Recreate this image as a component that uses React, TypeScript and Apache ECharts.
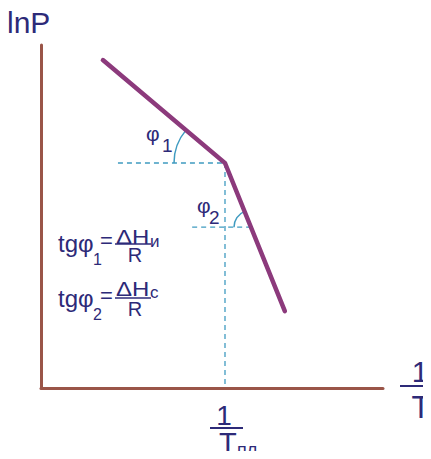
import React, { useEffect, useRef } from "react";
import * as echarts from "echarts";

// Broken line ln P vs 1/T (two linear branches meeting at the melting point)
const curveX = [18.1, 53.8, 71.3];
const curveY = [95.6, 65.6, 22.4];

// Guide lines (dashed)
const guide1X = [22.5, 53.8];
const guide1Y = [65.6, 65.6];
const guideVX = [53.8, 53.8];
const guideVY = [65.6, 0];
const guide2X = [44.2, 61.4];
const guide2Y = [46.9, 46.9];

const TEXT = "#2d2a78";
const AXIS = "#9a5548";
const LINE = "#8c3a7c";
const DASH = "#3f9bc0";
const FONT = "'Liberation Sans', Arial, sans-serif";

const pairs = (xs: number[], ys: number[]) => xs.map((x, i) => [x, ys[i]]);

function txt(text: string, x: number, y: number, size: number, align = "left", sx = 1) {
  return {
    type: "text",
    x,
    y,
    scaleX: sx,
    silent: true,
    style: {
      text,
      fill: TEXT,
      font: `${size}px ${FONT}`,
      textAlign: align,
      textVerticalAlign: "middle",
    },
  };
}

function bar(x1: number, x2: number, y: number, w = 1.5) {
  return {
    type: "line",
    silent: true,
    shape: { x1, y1: y, x2, y2: y },
    style: { stroke: TEXT, lineWidth: w },
  };
}

export default function App() {
  const ref = useRef<HTMLDivElement>(null);

  useEffect(() => {
    if (!ref.current) return;
    const chart = echarts.init(ref.current, null, { renderer: "svg" });
    const dashed = (data: number[][]) => ({
      type: "line",
      data,
      symbol: "none",
      silent: true,
      lineStyle: { color: DASH, width: 1.3, type: [5, 4] },
    });
    chart.setOption({
      animation: false,
      grid: { left: 41, right: 48, top: 45, bottom: 71 },
      xAxis: {
        type: "value",
        min: 0,
        max: 100,
        axisLine: { show: true, lineStyle: { color: AXIS, width: 3 } },
        axisTick: { show: false },
        axisLabel: { show: false },
        splitLine: { show: false },
      },
      yAxis: {
        type: "value",
        min: 0,
        max: 100,
        axisLine: { show: true, lineStyle: { color: AXIS, width: 3 } },
        axisTick: { show: false },
        axisLabel: { show: false },
        splitLine: { show: false },
      },
      series: [
        dashed(pairs(guide1X, guide1Y)),
        dashed(pairs(guideVX, guideVY)),
        dashed(pairs(guide2X, guide2Y)),
        {
          type: "line",
          data: pairs(curveX, curveY),
          symbol: "none",
          silent: true,
          lineStyle: { color: LINE, width: 4.5, cap: "round", join: "miter" },
          z: 5,
        },
      ],
    });

    // Angle arcs at the knee and at the lower guide crossing
    const px = (p: number[]) => chart.convertToPixel({ gridIndex: 0 }, p) as number[];
    const knee = px([curveX[1], curveY[1]]);
    const top = px([curveX[0], curveY[0]]);
    const cross = px([guide2X[1], guide2Y[1]]);
    const a1 = Math.atan2(top[1] - knee[1], top[0] - knee[0]) + 2 * Math.PI;
    const a2 = Math.atan2(knee[1] - cross[1], knee[0] - cross[0]) + 2 * Math.PI;
    const arc = (c: number[], r: number, end: number) => ({
      type: "arc",
      silent: true,
      shape: { cx: c[0], cy: c[1], r, startAngle: Math.PI, endAngle: end, clockwise: true },
      style: { stroke: DASH, lineWidth: 1.5, fill: "none" },
    });

    chart.setOption({
      graphic: [
        arc(knee, 51, a1),
        arc(cross, 17, a2),
        txt("lnP", 7, 22, 30),
        txt("φ", 146, 133, 21),
        txt("1", 162, 145, 19),
        txt("φ", 197, 205, 21),
        txt("2", 209, 217, 19),
        // tgφ1 = ΔHи / R
        txt("tgφ", 58, 243, 24),
        txt("1", 93, 259, 16),
        txt("=", 100, 240, 22),
        txt("ΔH", 116, 237, 20, "left", 1.2),
        txt("и", 150, 241, 17),
        bar(115, 151, 244),
        txt("R", 135, 255, 20, "center"),
        // tgφ2 = ΔHс / R
        txt("tgφ", 58, 298, 24),
        txt("2", 93, 314, 16),
        txt("=", 100, 295, 22),
        txt("ΔH", 116, 289, 20, "left", 1.2),
        txt("с", 150, 292, 17),
        bar(115, 151, 298),
        txt("R", 135, 309, 20, "center"),
        // 1/Tпл under the x axis
        txt("1", 224, 415, 28, "center"),
        bar(210, 243, 428, 2),
        txt("T", 219, 443, 29),
        txt("пл", 237, 450, 18),
        // 1/T at the end of the x axis
        txt("1", 420, 371, 30, "center"),
        bar(400, 431, 386, 2),
        txt("T", 421, 407, 31, "center"),
      ],
    });

    return () => chart.dispose();
  }, []);

  return <div ref={ref} style={{ width: 431, height: 459, margin: -8 }} />;
}
